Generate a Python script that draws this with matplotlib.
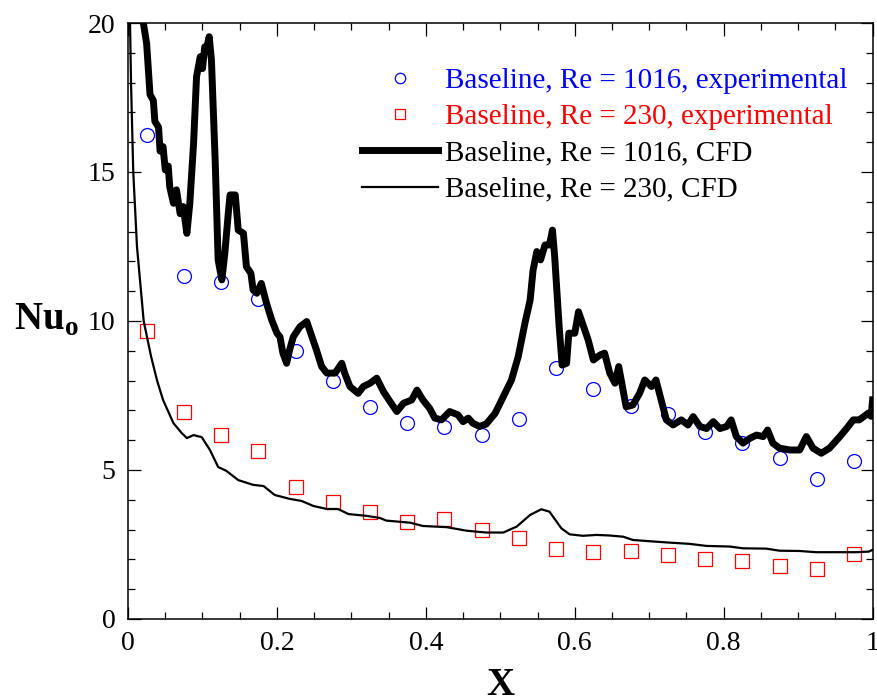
import numpy as np
import matplotlib
matplotlib.use('Agg')
import matplotlib.pyplot as plt
from matplotlib.ticker import MultipleLocator

plt.rcParams['font.family'] = 'Liberation Serif'
plt.rcParams['mathtext.fontset'] = 'custom'
plt.rcParams['mathtext.rm'] = 'Liberation Serif'
plt.rcParams['mathtext.bf'] = 'Liberation Serif:bold'

# experimental points
x_exp = [0.025, 0.075, 0.125, 0.175, 0.225, 0.275, 0.325, 0.375, 0.425, 0.475,
         0.525, 0.575, 0.625, 0.675, 0.725, 0.775, 0.825, 0.875, 0.925, 0.975]
nu_1016_exp = [16.24, 11.5, 11.3, 10.74, 9.0, 7.99, 7.11, 6.58, 6.44, 6.17,
               6.71, 8.42, 7.72, 7.15, 6.88, 6.28, 5.9, 5.4, 4.7, 5.3]
nu_230_exp = [9.66, 6.95, 6.17, 5.64, 4.43, 3.93, 3.59, 3.26, 3.36, 2.99,
              2.72, 2.35, 2.25, 2.28, 2.15, 2.01, 1.95, 1.78, 1.68, 2.18]

# CFD Re = 1016 (thick)
x_1016 = [0.017, 0.0206, 0.025, 0.0295, 0.034, 0.036, 0.041, 0.043, 0.047, 0.05, 0.054,
          0.056, 0.061, 0.065, 0.07, 0.074, 0.079, 0.083, 0.088, 0.092, 0.097,
          0.1, 0.103, 0.106, 0.109, 0.112, 0.117, 0.121, 0.126, 0.13, 0.135,
          0.137, 0.144, 0.148, 0.155, 0.159, 0.165, 0.168, 0.173, 0.179, 0.186,
          0.193, 0.2, 0.204, 0.208, 0.213, 0.217, 0.222, 0.231, 0.24, 0.247,
          0.253, 0.26, 0.267, 0.278, 0.287, 0.291, 0.298, 0.309, 0.316, 0.325,
          0.334, 0.343, 0.352, 0.361, 0.37, 0.381, 0.388, 0.396, 0.405, 0.412,
          0.421, 0.432, 0.443, 0.45, 0.457, 0.463, 0.472, 0.481, 0.493, 0.504,
          0.515, 0.524, 0.533, 0.54, 0.544, 0.549, 0.554, 0.56, 0.566, 0.57,
          0.573, 0.579, 0.583, 0.589, 0.592, 0.6, 0.605, 0.611, 0.618, 0.625,
          0.634, 0.64, 0.647, 0.654, 0.659, 0.669, 0.678, 0.687, 0.694, 0.703,
          0.709, 0.716, 0.723, 0.732, 0.743, 0.752, 0.759, 0.768, 0.777, 0.786,
          0.795, 0.804, 0.81, 0.817, 0.826, 0.835, 0.844, 0.853, 0.859, 0.866,
          0.875, 0.889, 0.902, 0.911, 0.92, 0.931, 0.942, 0.956, 0.965, 0.974,
          0.982, 0.994, 0.998, 1.0]
nu_1016 = [21.5, 20.0, 19.3, 17.6, 17.4, 16.7, 16.5, 15.7, 15.85, 15.07, 15.2,
           14.5, 13.95, 14.4, 13.6, 13.84, 12.94, 13.96, 15.96, 18.2, 18.87,
           18.47, 19.2, 19.2, 19.54, 18.76, 15.4, 12.05, 11.38, 12.28, 13.72,
           14.23, 14.23, 13.05, 12.94, 11.82, 11.6, 11.04, 10.93, 11.26, 10.59,
           10.03, 9.59, 9.47, 8.92, 8.58, 9.03, 9.47, 9.81, 9.98, 9.47,
           9.03, 8.47, 8.25, 8.25, 8.58, 8.25, 7.8, 7.57, 7.8, 7.91,
           8.08, 7.63, 7.29, 6.96, 7.24, 7.35, 7.68, 7.35, 7.07, 6.74,
           6.68, 6.96, 6.85, 6.62, 6.74, 6.57, 6.46, 6.54, 6.9, 7.46,
           8.02, 8.8, 9.92, 10.7, 11.71, 12.33, 12.05, 12.55, 12.55, 13.05,
           12.16, 9.81, 8.52, 8.58, 9.59, 9.59, 10.31, 9.87, 9.36, 8.69,
           8.86, 8.92, 8.25, 7.91, 8.47, 7.12, 7.18, 7.57, 8.02, 7.8,
           8.02, 7.35, 6.68, 6.51, 6.68, 6.51, 6.79, 6.46, 6.39, 6.62,
           6.39, 6.46, 6.68, 6.12, 5.9, 6.06, 6.17, 6.12, 6.34, 5.9,
           5.73, 5.67, 5.67, 6.12, 5.73, 5.56, 5.73, 6.12, 6.39, 6.68,
           6.68, 6.9, 6.8, 7.35]

# CFD Re = 230 (thin)
x_230 = [0.002, 0.004, 0.007, 0.012, 0.021, 0.031, 0.039, 0.047,
         0.061, 0.072, 0.079, 0.088, 0.099, 0.11, 0.121, 0.132, 0.148, 0.168,
         0.182, 0.197, 0.217, 0.233, 0.249, 0.267, 0.282, 0.296, 0.32, 0.338,
         0.347, 0.379, 0.396, 0.428, 0.455, 0.481, 0.504, 0.522, 0.54, 0.555,
         0.566, 0.582, 0.593, 0.611, 0.629, 0.647, 0.665, 0.678, 0.705, 0.728,
         0.754, 0.777, 0.808, 0.826, 0.857, 0.875, 0.902, 0.924, 0.951, 0.978,
         0.995, 1.0]
nu_230 = [21.0, 18.0, 15.0, 12.5, 10.0, 8.8, 8.0, 7.35,
          6.57, 6.24, 6.07, 6.17, 6.1, 5.67, 5.1, 4.97, 4.66, 4.5,
          4.46, 4.16, 4.03, 3.96, 3.79, 3.69, 3.69, 3.52, 3.46, 3.39,
          3.3, 3.23, 3.12, 3.08, 2.96, 2.9, 2.9, 3.1, 3.49, 3.68,
          3.6, 3.04, 2.84, 2.79, 2.82, 2.8, 2.76, 2.65, 2.6, 2.56,
          2.52, 2.45, 2.43, 2.37, 2.36, 2.29, 2.28, 2.24, 2.24, 2.24,
          2.26, 2.32]

fig = plt.figure(figsize=(8.77, 6.97), dpi=100)
ax = fig.add_axes([0.146, 0.112, 0.849, 0.855])

ax.plot(x_exp, nu_1016_exp, 'o', mfc='none', mec='#0000ff', mew=0.9, ms=10,
        label='Baseline, Re = 1016, experimental')
ax.plot(x_exp, nu_230_exp, 's', mfc='none', mec='#ff0000', mew=0.9, ms=10,
        label='Baseline, Re = 230, experimental')
ax.plot(x_1016, nu_1016, 'k-', lw=5, label='Baseline, Re = 1016, CFD')
ax.plot(x_230, nu_230, 'k-', lw=1.6, label='Baseline, Re = 230, CFD')

ax.set_xlim(0, 1)
ax.set_ylim(0, 20)
ax.set_xticks([0, 0.2, 0.4, 0.6, 0.8, 1.0])
ax.set_xticklabels(['0', '0.2', '0.4', '0.6', '0.8', '1'])
ax.xaxis.set_minor_locator(MultipleLocator(0.05))
ax.yaxis.set_major_locator(MultipleLocator(5))
ax.yaxis.set_minor_locator(MultipleLocator(1))
ax.tick_params(which='both', direction='in', top=True, right=True, labelsize=20)
ax.tick_params(which='major', length=9, width=0.9)
ax.tick_params(which='minor', length=5, width=0.9)
ax.tick_params(axis='x', pad=9)
ax.tick_params(axis='y', pad=9)
for s in ax.spines.values():
    s.set_linewidth(1.1)

ax.set_xlabel('X', fontsize=28, fontweight='bold')
ax.xaxis.set_label_coords(0.5, -0.08)
ax.set_ylabel(r'$\mathbf{Nu}_\mathbf{o}$', fontsize=28, rotation=0)
ax.yaxis.set_label_coords(-0.11, 0.47)

leg = ax.legend(loc='upper right', bbox_to_anchor=(0.99, 0.955), frameon=False,
                fontsize=21, handlelength=2.6, handletextpad=0.25,
                labelspacing=0.34, markerscale=0.75, borderaxespad=0.2)
for txt, c in zip(leg.get_texts(), ['#0000ff', '#ff0000', 'k', 'k']):
    txt.set_color(c)

fig.savefig('out.png', dpi=100)
